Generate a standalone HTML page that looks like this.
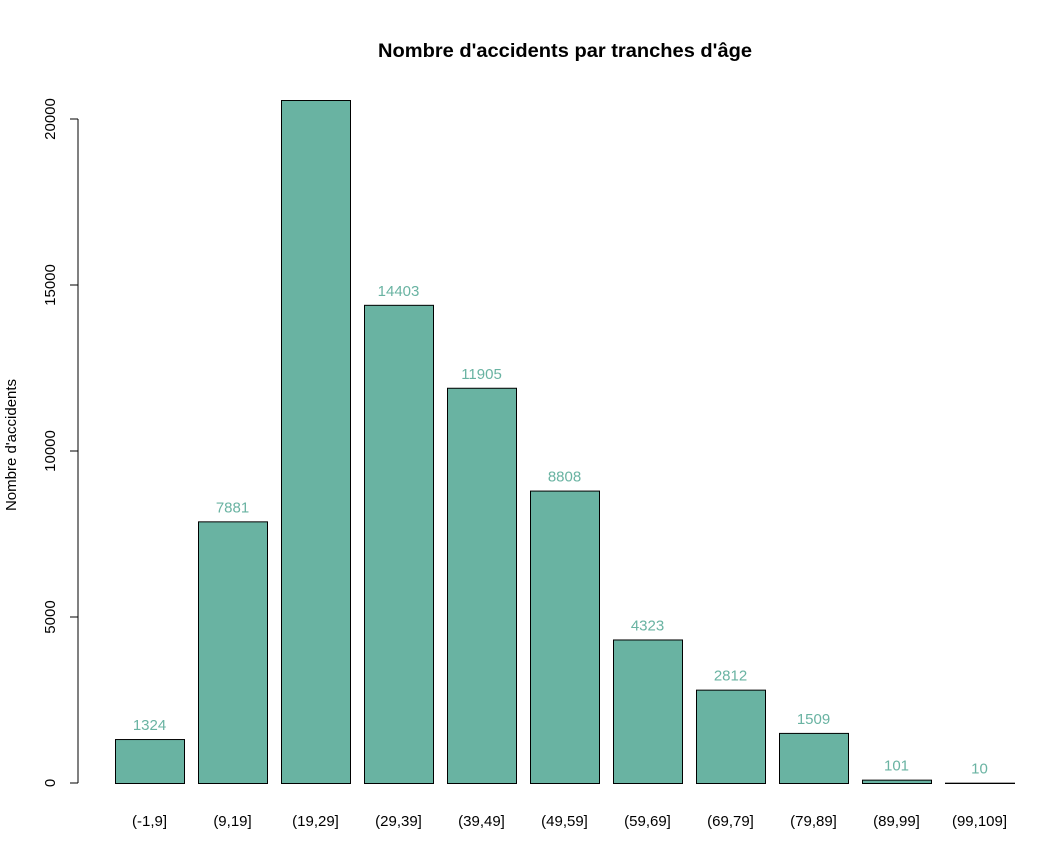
<!DOCTYPE html>
<html><head><meta charset="utf-8"><style>
body{margin:0;background:#fff}
svg{font-family:"Liberation Sans",Arial,sans-serif}
</style></head><body>
<svg id="c" width="1050" height="850" xmlns="http://www.w3.org/2000/svg">
<rect width="1050" height="850" fill="#fff"/>
<text x="565" y="57" text-anchor="middle" font-weight="bold" font-size="19" textLength="374" lengthAdjust="spacingAndGlyphs">Nombre d'accidents par tranches d'âge</text>
<text transform="translate(16,445) rotate(-90)" text-anchor="middle" font-size="15">Nombre d'accidents</text>
<g id="axis"></g><g id="bars"></g>
</svg>
<script>
const categories=["(-1,9]","(9,19]","(19,29]","(29,39]","(39,49]","(49,59]","(59,69]","(69,79]","(79,89]","(89,99]","(99,109]"];
const values=[1324,7881,20572,14403,11905,8808,4323,2812,1509,101,10];
const yTicks=[0,5000,10000,15000,20000];
const ns="http://www.w3.org/2000/svg";
const y=v=>783-v*(783-119)/20000;
const x=i=>116+i*83;
const bw=69;
function mk(t,a,p){const e=document.createElementNS(ns,t);for(const k in a)e.setAttribute(k,a[k]);p.appendChild(e);return e;}
const ax=document.getElementById('axis'),bg=document.getElementById('bars');
const al=mk('line',{x1:78,x2:78,y1:y(0),y2:y(20000),stroke:'#000'},ax);


yTicks.forEach(t=>{
 const l=mk('line',{x1:70,x2:78,y1:y(t),y2:y(t),stroke:'#000'},ax);
 
 
 const tx=mk('text',{transform:`translate(55,${y(t)}) rotate(-90)`,'text-anchor':'middle','font-size':15},ax);
 tx.textContent=t;
 
 
});
values.forEach((v,i)=>{
 const r=mk('rect',{x:x(i)-0.5,y:y(v)+0.5,width:bw,height:y(0)-y(v),fill:'#69b3a2',stroke:'#000','stroke-width':1},bg);
 
 
 if(y(v)>115){
 const lb=mk('text',{x:x(i)+bw/2-1,y:y(v)-9,'text-anchor':'middle','font-size':15,fill:'#69b3a2'},bg);
 lb.textContent=v;
 
 
 }
 const cl=mk('text',{x:x(i)+bw/2-1,y:826,'text-anchor':'middle','font-size':15},bg);
 cl.textContent=categories[i];
 
 
});
</script>
</body></html>
